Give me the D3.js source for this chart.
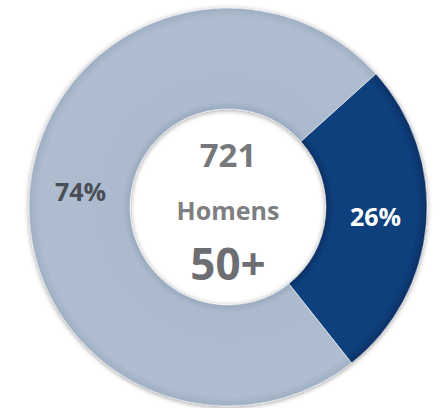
<!DOCTYPE html>
<html><head><meta charset="utf-8">
<script src="https://cdn.jsdelivr.net/npm/d3@7"></script>
<style>html,body{margin:0;padding:0;background:#fff;}svg{display:block;}</style>
</head><body>
<svg id="c" width="444" height="408"></svg>
<script>
const categories = ["Homens 50+", "Outros"];
const values = [26, 74];
const labels = ["26%", "74%"];
const centerLines = ["721", "Homens", "50+"];

const W = 444, H = 408, cx = 228, cy = 207, rOuter = 199, rInner = 98;
const svg = d3.select("#c");
const defs = svg.append("defs");

const sh = defs.append("filter").attr("id","sh").attr("x","-10%").attr("y","-10%").attr("width","120%").attr("height","120%");
sh.append("feGaussianBlur").attr("in","SourceAlpha").attr("stdDeviation",2.5).attr("result","b");
sh.append("feOffset").attr("in","b").attr("dx",0).attr("dy",1).attr("result","o");
sh.append("feComponentTransfer").attr("in","o").attr("result","o2").append("feFuncA").attr("type","linear").attr("slope",0.4);
const m = sh.append("feMerge"); m.append("feMergeNode").attr("in","o2"); m.append("feMergeNode").attr("in","SourceGraphic");

const gl = defs.append("radialGradient").attr("id","gl").attr("gradientUnits","userSpaceOnUse")
  .attr("cx",0).attr("cy",0).attr("r",rOuter);
[[0.49,"#98a9be"],[0.53,"#abbacc"],[0.95,"#aebdcf"],[1,"#9fafc3"]].forEach(s=>gl.append("stop").attr("offset",s[0]).attr("stop-color",s[1]));
const gd = defs.append("radialGradient").attr("id","gd").attr("gradientUnits","userSpaceOnUse")
  .attr("cx",0).attr("cy",0).attr("r",rOuter);
[[0.49,"#0a2f62"],[0.53,"#0f3f7c"],[0.95,"#0f3f7c"],[1,"#0a3166"]].forEach(s=>gd.append("stop").attr("offset",s[0]).attr("stop-color",s[1]));

const fills = d3.scaleOrdinal().domain(categories).range(["url(#gd)","url(#gl)"]);
const textCol = d3.scaleOrdinal().domain(categories).range(["#ffffff","#4a4f57"]);

const pie = d3.pie().sort(null).value(d=>d.v).startAngle(48*Math.PI/180).endAngle(48*Math.PI/180 + 2*Math.PI);
const data = pie(categories.map((c,i)=>({c, v: values[i], l: labels[i]})));
const arc = d3.arc().innerRadius(rInner).outerRadius(rOuter);
const labelArc = d3.arc().innerRadius(148).outerRadius(148);

const g = svg.append("g").attr("transform",`translate(${cx},${cy})`);
g.append("g").attr("filter","url(#sh)").selectAll("path").data(data).join("path")
  .attr("d",arc).attr("fill",d=>fills(d.data.c)).attr("stroke","#fff").attr("stroke-width",0.5);

const font = "'Open Sans', Lato, sans-serif";
g.selectAll("text.lbl").data(data).join("text").attr("class","lbl")
  .attr("transform",d=>{const p = labelArc.centroid(d); return `translate(${p[0]},${p[1]-2})`;})
  .attr("text-anchor","middle").attr("dy","0.35em")
  .attr("font-family",font).attr("font-weight","bold").attr("font-size",25)
  .attr("fill",d=>textCol(d.data.c)).text(d=>d.data.l);

const cfg = [{y:-40,s:33,c:"#76787c"},{y:13,s:25,c:"#7d7f83"},{y:73,s:44,c:"#6c6e72"}];
g.selectAll("text.ctr").data(centerLines).join("text").attr("class","ctr")
  .attr("x",0).attr("y",(d,i)=>cfg[i].y).attr("text-anchor","middle")
  .attr("font-family",font).attr("font-weight","bold")
  .attr("font-size",(d,i)=>cfg[i].s).attr("fill",(d,i)=>cfg[i].c).text(d=>d);
</script>
</body></html>
